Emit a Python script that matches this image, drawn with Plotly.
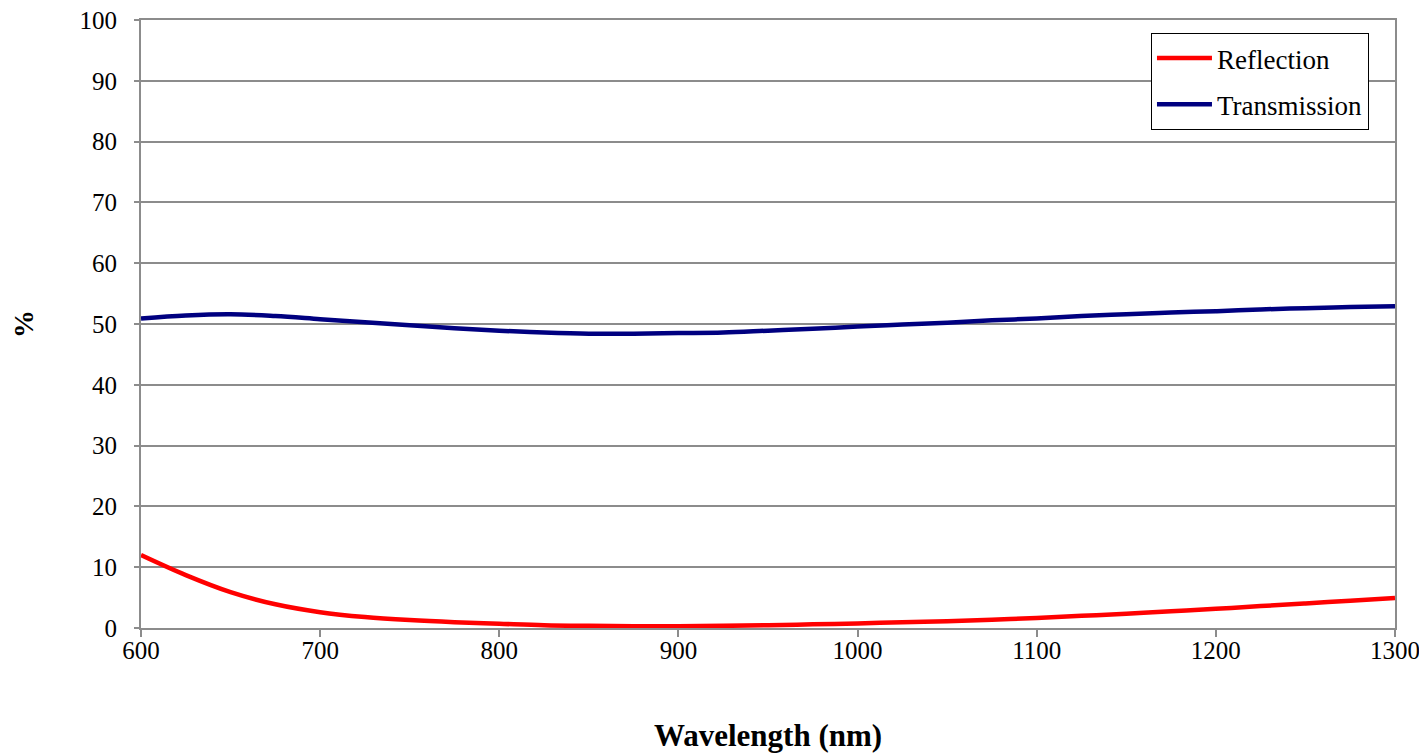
import plotly.graph_objects as go

wavelength = [600, 625, 650, 675, 700, 725, 750, 775, 800, 825, 850, 875, 900, 925, 950,
              975, 1000, 1025, 1050, 1075, 1100, 1125, 1150, 1175, 1200, 1225, 1250, 1275, 1300]
reflection = [12.0, 8.7, 5.9, 3.9, 2.6, 1.8, 1.3, 0.95, 0.7, 0.45, 0.35, 0.3, 0.3, 0.35, 0.45,
              0.6, 0.75, 0.95, 1.1, 1.35, 1.65, 2.0, 2.35, 2.75, 3.15, 3.6, 4.05, 4.5, 4.95]
transmission = [50.9, 51.4, 51.6, 51.3, 50.8, 50.3, 49.8, 49.3, 48.9, 48.6, 48.4, 48.4, 48.5, 48.6, 48.9,
                49.2, 49.6, 49.9, 50.2, 50.6, 50.9, 51.3, 51.6, 51.9, 52.1, 52.4, 52.6, 52.8, 52.9]
x_ticks = [600, 700, 800, 900, 1000, 1100, 1200, 1300]
y_ticks = [0, 10, 20, 30, 40, 50, 60, 70, 80, 90, 100]

font_family = "Liberation Serif, Times New Roman, serif"
grid_col = "#8c8c8c"

fig = go.Figure()
fig.add_trace(go.Scatter(x=wavelength, y=reflection, mode="lines", name="Reflection",
                         legendgroup="r",
                         line=dict(color="#ff0000", width=4.5, shape="spline")))
fig.add_trace(go.Scatter(x=wavelength, y=transmission, mode="lines", name="Transmission",
                         legendgroup="t",
                         line=dict(color="#000080", width=4.5, shape="spline")))

fig.update_layout(
    width=1419, height=745,
    margin=dict(l=133, r=32, t=12, b=125),
    paper_bgcolor="white", plot_bgcolor="white",
    font=dict(family=font_family, size=25, color="black"),
    showlegend=True,
    legend=dict(x=0.8054, y=0.9786, xanchor="left", yanchor="top",
                bordercolor="black", borderwidth=1, bgcolor="white",
                font=dict(family=font_family, size=27, color="black"),
                tracegroupgap=8, traceorder="grouped", itemwidth=55),
    xaxis=dict(range=[600, 1300], tickvals=x_ticks, ticktext=[str(v) for v in x_ticks],
               showgrid=False, zeroline=False, automargin=False, ticklabeloverflow="allow",
               showline=True, linecolor=grid_col, linewidth=2, mirror=True,
               ticks="outside", ticklen=7, tickcolor=grid_col, tickwidth=1.5,
               ticklabelstandoff=-8,
               title=dict(text="<b>Wavelength (nm)</b>", font=dict(size=31), standoff=64)),
    yaxis=dict(range=[0, 100], tickvals=y_ticks, ticktext=[str(v) for v in y_ticks],
               showgrid=True, gridcolor=grid_col, gridwidth=1.5, zeroline=False, automargin=False,
               ticklabeloverflow="allow",
               showline=True, linecolor=grid_col, linewidth=2, mirror=True,
               ticks="outside", ticklen=5, tickcolor=grid_col, tickwidth=1.5,
               ticklabelstandoff=12,
               title=dict(text="<b>%</b>", font=dict(size=28), standoff=38)),
)

fig.write_html("out.html")
